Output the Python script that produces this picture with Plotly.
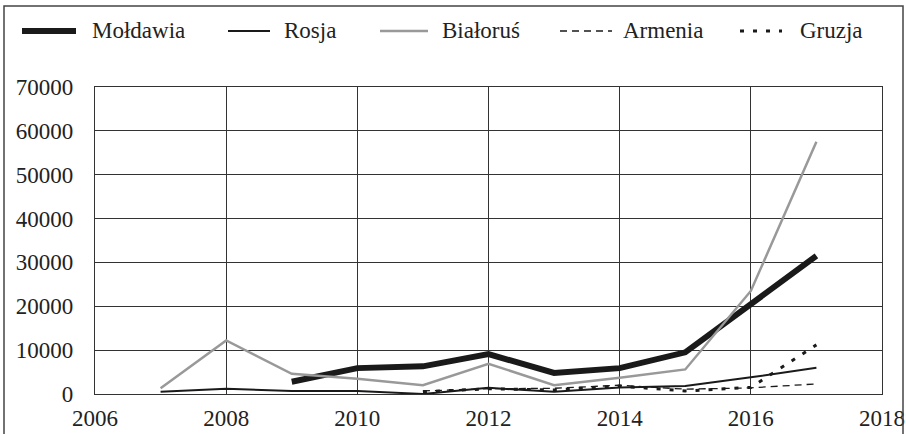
import plotly.graph_objects as go

years = [2007, 2008, 2009, 2010, 2011, 2012, 2013, 2014, 2015, 2016, 2017]
moldawia = [None, None, 2800, 5900, 6300, 9100, 4800, 5900, 9500, 20600, 31500]
rosja = [500, 1200, 700, 700, 0, 1400, 500, 1500, 1800, 3800, 6000]
bialorus = [1300, 12200, 4600, 3500, 2000, 6900, 2000, 3700, 5600, 23500, 57500]
armenia = [None, None, None, None, 700, 1200, 1300, 2000, 1100, 1400, 2300]
gruzja = [None, None, None, None, 500, 1200, 900, 1800, 700, 1500, 11200]

x_ticks = [2006, 2008, 2010, 2012, 2014, 2016, 2018]
y_ticks = [0, 10000, 20000, 30000, 40000, 50000, 60000, 70000]

FONT = "Liberation Serif, Times New Roman, Times, serif"
FS = 23

series = [
    ("Mołdawia", moldawia, dict(color="#1a1a1a", width=6)),
    ("Rosja", rosja, dict(color="#1a1a1a", width=2)),
    ("Białoruś", bialorus, dict(color="#999999", width=2.5)),
    ("Armenia", armenia, dict(color="#1a1a1a", width=1.3, dash="7px,5px")),
    ("Gruzja", gruzja, dict(color="#1a1a1a", width=3, dash="4px,9px")),
]

W, H = 906, 434
L, R, T, B = 95, 24, 87, 40
pw = W - L - R
ph = H - T - B

def xp(px):
    return (px - L) / pw

def yp(py):
    return 1 - (py - T) / ph

fig = go.Figure()
for name, vals, line in series:
    fig.add_trace(go.Scatter(x=years, y=vals, name=name, mode="lines",
                             line=line, connectgaps=False, showlegend=False,
                             hoverinfo="skip"))

# legend drawn as line samples + text
legend_line_px = [(22, 76), (228, 270), (380, 428), (560, 612), (740, 782)]
legend_text_px = [90, 282, 440, 621, 798]
leg_y = 31
for (name, vals, line), (x0, x1), tx in zip(series, legend_line_px, legend_text_px):
    fig.add_shape(type="line", xref="paper", yref="paper",
                  x0=xp(x0), x1=xp(x1), y0=yp(leg_y), y1=yp(leg_y),
                  line=line)
    fig.add_annotation(xref="paper", yref="paper", x=xp(tx), y=yp(leg_y),
                       text=name, showarrow=False, xanchor="left", yanchor="middle",
                       font=dict(family=FONT, size=FS, color="#222"))

fig.update_layout(
    width=W, height=H,
    margin=dict(l=L, r=R, t=T, b=B, autoexpand=False),
    paper_bgcolor="white", plot_bgcolor="white",
    font=dict(family=FONT, size=FS, color="#222"),
    showlegend=False,
)
fig.update_xaxes(range=[2006, 2018], tickvals=x_ticks, ticktext=[str(v) for v in x_ticks],
                 showgrid=True, gridcolor="#333", gridwidth=1,
                 showline=True, linecolor="#333", linewidth=1.2, mirror=True,
                 zeroline=False, ticks="", ticklabelstandoff=3, automargin=False,
                 tickfont=dict(family=FONT, size=FS, color="#222"))
fig.update_yaxes(range=[0, 70000], tickvals=y_ticks, ticktext=[str(v) for v in y_ticks],
                 showgrid=True, gridcolor="#333", gridwidth=1,
                 showline=True, linecolor="#333", linewidth=1.2, mirror=True,
                 zeroline=False, ticks="", ticklabelstandoff=16, automargin=False,
                 tickfont=dict(family=FONT, size=FS, color="#222"))

# outer frame of the whole chart
fig.add_shape(type="rect", xref="paper", yref="paper",
              x0=xp(4), x1=xp(903), y0=yp(440), y1=yp(6),
              line=dict(color="#444", width=1.5), fillcolor="rgba(0,0,0,0)")

fig.write_html("out.html", config={"displayModeBar": False},
               post_script="document.body.style.margin='0';document.body.style.overflow='hidden';")
